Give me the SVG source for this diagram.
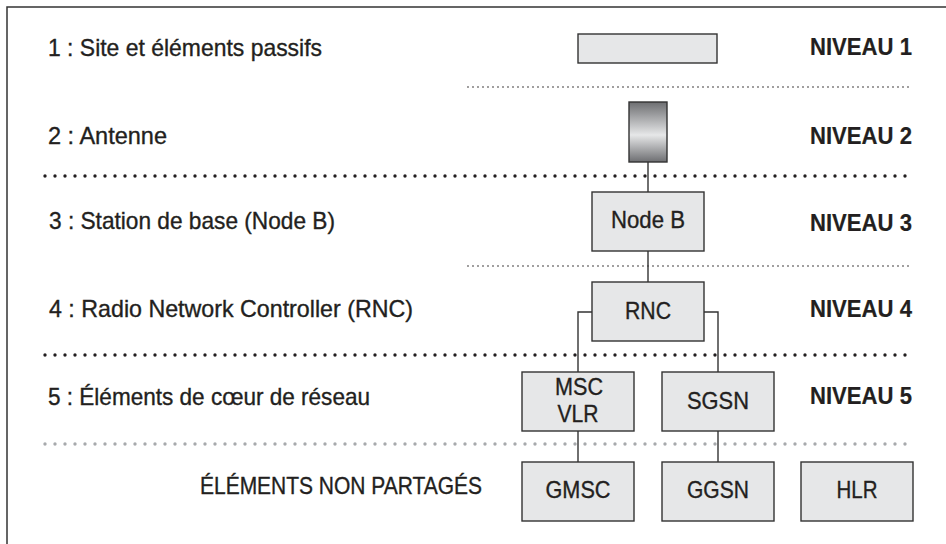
<svg xmlns="http://www.w3.org/2000/svg" width="946" height="544" viewBox="0 0 946 544">
<style>
text{font-family:"Liberation Sans",Arial,sans-serif;font-size:24px;fill:#231f20;stroke:#231f20;stroke-width:0.35}
.b{font-weight:bold;stroke-width:0.2}
.m{text-anchor:middle}
.box{fill:#e6e7e8;stroke:#333;stroke-width:1.4}
.con{fill:none;stroke:#333;stroke-width:1.4}
.thin{stroke:#231f20;stroke-width:1.6;stroke-linecap:round;stroke-dasharray:0 5}
.thick{stroke:#231f20;stroke-width:3.4;stroke-linecap:round;stroke-dasharray:0 10}
.gray{stroke:#a7a9ac;stroke-width:3.4;stroke-linecap:round;stroke-dasharray:0 10}
</style>
<defs>
<linearGradient id="ant" x1="0" y1="0" x2="0" y2="1">
<stop offset="0" stop-color="#6d6e71"/>
<stop offset="0.55" stop-color="#e6e7e8"/>
<stop offset="1" stop-color="#6d6e71"/>
</linearGradient>
</defs>
<rect width="946" height="544" fill="#fff"/>
<path d="M7,560 V7 H960" fill="none" stroke="#333" stroke-width="1.5"/>
<g id="separators">
<line class="thin" x1="468" y1="87" x2="913" y2="87"/>
<line class="thick" x1="45" y1="176" x2="915" y2="176"/>
<line class="thin" x1="468" y1="266" x2="913" y2="266"/>
<line class="thick" x1="45" y1="355" x2="915" y2="355"/>
<line class="gray" x1="45" y1="444" x2="915" y2="444"/>
</g>
<g id="labels">
<text x="48" y="56" textLength="274" lengthAdjust="spacingAndGlyphs">1 : Site et éléments passifs</text>
<text x="48" y="144" textLength="119" lengthAdjust="spacingAndGlyphs">2 : Antenne</text>
<text x="49" y="229" textLength="286" lengthAdjust="spacingAndGlyphs">3 : Station de base (Node B)</text>
<text x="49" y="317" textLength="364" lengthAdjust="spacingAndGlyphs">4 : Radio Network Controller (RNC)</text>
<text x="48" y="405" textLength="322" lengthAdjust="spacingAndGlyphs">5 : Éléments de cœur de réseau</text>
<text x="200" y="494" textLength="282" lengthAdjust="spacingAndGlyphs">ÉLÉMENTS NON PARTAGÉS</text>
<text class="b" x="810" y="55" textLength="102" lengthAdjust="spacingAndGlyphs">NIVEAU 1</text>
<text class="b" x="810" y="144" textLength="102" lengthAdjust="spacingAndGlyphs">NIVEAU 2</text>
<text class="b" x="810" y="231" textLength="102" lengthAdjust="spacingAndGlyphs">NIVEAU 3</text>
<text class="b" x="810" y="317" textLength="102" lengthAdjust="spacingAndGlyphs">NIVEAU 4</text>
<text class="b" x="810" y="404" textLength="102" lengthAdjust="spacingAndGlyphs">NIVEAU 5</text>
</g>
<g id="connectors">
<line class="con" x1="648" y1="162" x2="648" y2="192"/>
<line class="con" x1="648" y1="251" x2="648" y2="282"/>
<path class="con" d="M592,312 H578 V372"/>
<path class="con" d="M704,312 H718 V372"/>
<line class="con" x1="578" y1="431" x2="578" y2="462"/>
<line class="con" x1="718" y1="431" x2="718" y2="462"/>
</g>
<g id="site"><rect class="box" x="578" y="34" width="139" height="29"/></g>
<g id="antenne"><rect x="629" y="102" width="38" height="60" fill="url(#ant)" stroke="#333" stroke-width="1.4"/></g>
<g id="nodeb"><rect class="box" x="592" y="192" width="112" height="59"/><text class="m" x="648" y="228" textLength="74" lengthAdjust="spacingAndGlyphs">Node B</text></g>
<g id="rnc"><rect class="box" x="592" y="282" width="112" height="59"/><text class="m" x="648" y="319" textLength="46" lengthAdjust="spacingAndGlyphs">RNC</text></g>
<g id="msc"><rect class="box" x="522" y="372" width="112" height="59"/><text class="m" x="579" y="395" textLength="48" lengthAdjust="spacingAndGlyphs">MSC</text><text class="m" x="578" y="422" textLength="41" lengthAdjust="spacingAndGlyphs">VLR</text></g>
<g id="sgsn"><rect class="box" x="662" y="372" width="112" height="59"/><text class="m" x="718" y="409" textLength="62" lengthAdjust="spacingAndGlyphs">SGSN</text></g>
<g id="gmsc"><rect class="box" x="522" y="462" width="112" height="59"/><text class="m" x="578" y="498" textLength="65" lengthAdjust="spacingAndGlyphs">GMSC</text></g>
<g id="ggsn"><rect class="box" x="662" y="462" width="112" height="59"/><text class="m" x="718" y="498" textLength="62" lengthAdjust="spacingAndGlyphs">GGSN</text></g>
<g id="hlr"><rect class="box" x="801" y="462" width="112" height="59"/><text class="m" x="857" y="498" textLength="41" lengthAdjust="spacingAndGlyphs">HLR</text></g>
</svg>
